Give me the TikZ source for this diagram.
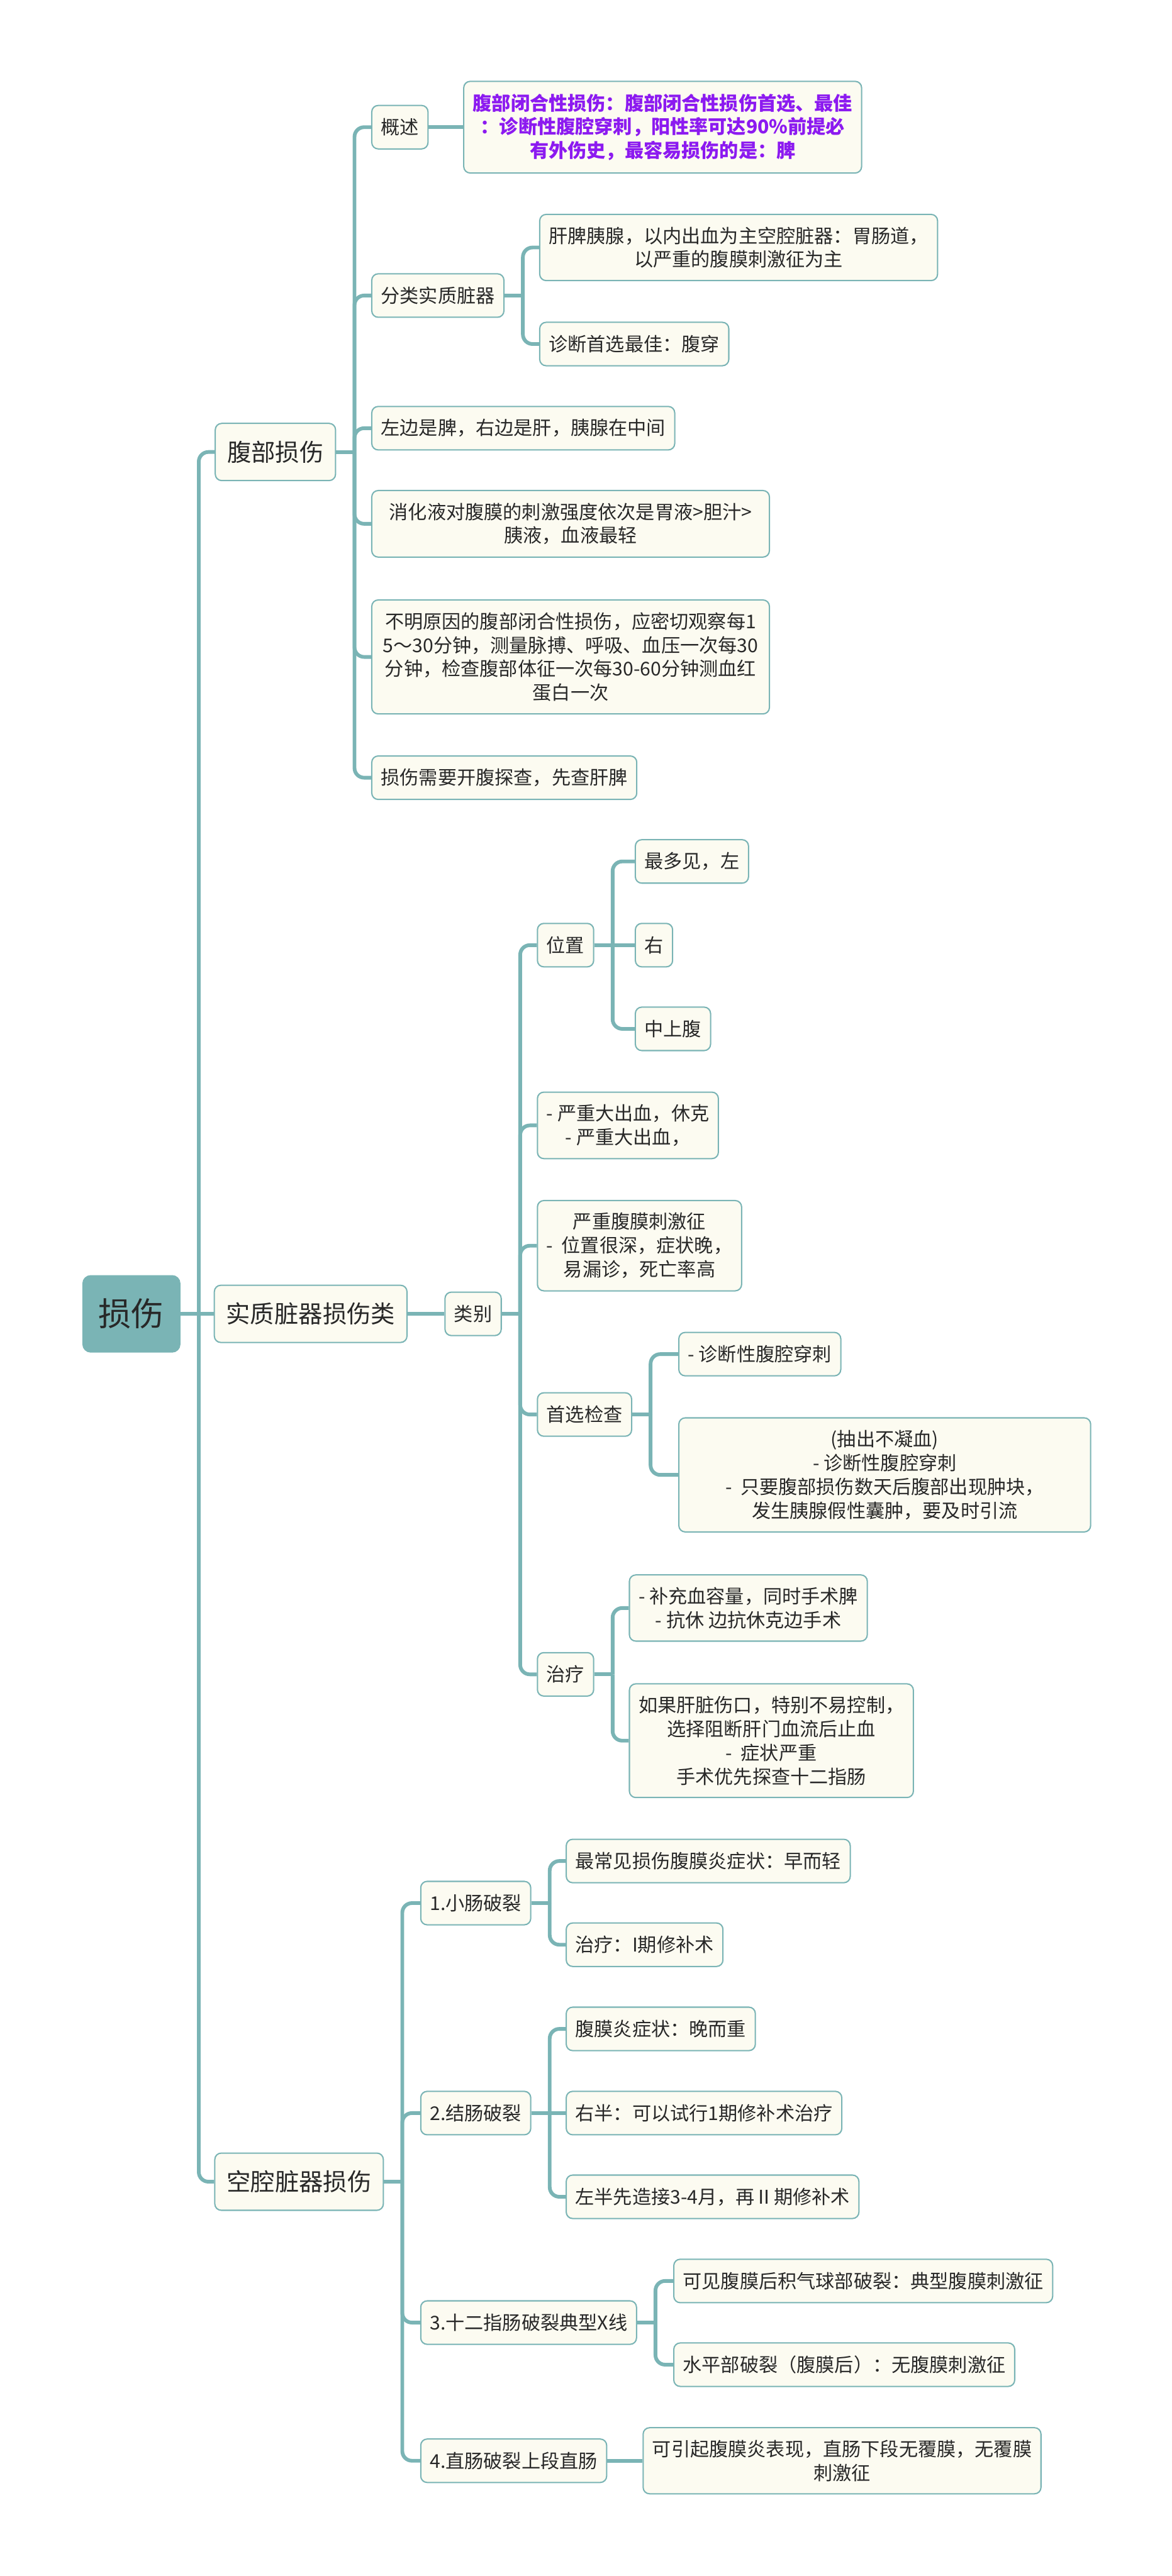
\documentclass[tikz,border=0pt]{standalone}
\usepackage{fontspec}
\setmainfont{Noto Sans CJK SC}
\usepackage{tikz}
\usetikzlibrary{positioning}
\definecolor{myteal}{RGB}{122,180,181}
\definecolor{mycream}{RGB}{252,251,241}
\definecolor{mydark}{RGB}{40,40,40}
\definecolor{mypurple}{RGB}{140,26,240}
\tikzset{
  rootnode/.style={rectangle, draw=myteal, fill=myteal, text=mydark,
    minimum width=2.13cm, minimum height=1.68cm, rounded corners=5pt,
    font=\fontsize{20.4pt}{24pt}\selectfont, anchor=west},
  mainblock/.style={rectangle, draw=myteal, fill=mycream, text=mydark,
    inner xsep=0.26cm, inner ysep=0.36cm, minimum height=1.25cm,
    font=\fontsize{15pt}{18pt}\selectfont, rounded corners=4pt,
    line width=0.8pt, anchor=west},
  block/.style={rectangle, draw=myteal, fill=mycream, text=mydark,
    inner xsep=0.2cm, inner ysep=0.27cm, minimum height=0.95cm, align=center,
    font=\fontsize{11.8pt}{14.8pt}\selectfont, rounded corners=4pt,
    line width=0.8pt, anchor=west},
  purpleblock/.style={block, text=mypurple,
    font=\fontsize{11.8pt}{14.8pt}\selectfont\bfseries},
  line/.style={color=myteal, line width=2.3pt},
  twig/.style={line, rounded corners=6pt}
}
\begin{document}
\begin{tikzpicture}
  \useasboundingbox (0,0) rectangle (25.6,-56.31);

  % Root and main branches
  \node[rootnode] (root) at (1.80,-28.72) {损伤};
  \node[mainblock] (fbss) at (4.69,-9.88) {腹部损伤};
  \node[mainblock] (szss) at (4.67,-28.72) {实质脏器损伤类};
  \node[mainblock] (kqss) at (4.68,-47.69) {空腔脏器损伤};

  % 腹部损伤
  \node[block] (gs) at (8.11,-2.78) {概述};
  \node[purpleblock] (gsnr) at (10.12,-2.78) {腹部闭合性损伤：腹部闭合性损伤首选、最佳\\：诊断性腹腔穿刺，阳性率可达90\%前提必\\有外伤史，最容易损伤的是：脾};
  \node[block] (flsz) at (8.11,-6.46) {分类实质脏器};
  \node[block] (gpyx) at (11.78,-5.41) {肝脾胰腺，以内出血为主空腔脏器：胃肠道，\\以严重的腹膜刺激征为主};
  \node[block] (zdsx) at (11.78,-7.52) {诊断首选最佳：腹穿};
  \node[block] (zbsp) at (8.11,-9.36) {左边是脾，右边是肝，胰腺在中间};
  \node[block, minimum width=8.69cm] (xhy) at (8.11,-11.45) {消化液对腹膜的刺激强度依次是胃液>胆汁>\\胰液，血液最轻};
  \node[block, minimum width=8.69cm] (bmyy) at (8.11,-14.36) {不明原因的腹部闭合性损伤，应密切观察每1\\5～30分钟，测量脉搏、呼吸、血压一次每30\\分钟，检查腹部体征一次每30-60分钟测血红\\蛋白一次};
  \node[block] (kfts) at (8.11,-17.00) {损伤需要开腹探查，先查肝脾};

  % 实质脏器损伤类
  \node[block] (lb) at (9.71,-28.72) {类别};
  \node[block] (wz) at (11.73,-20.66) {位置};
  \node[block] (wzz) at (13.87,-18.83) {最多见，左};
  \node[block] (wzy) at (13.87,-20.66) {右};
  \node[block] (wzm) at (13.87,-22.49) {中上腹};
  \node[block] (dcx) at (11.73,-24.60) {- 严重大出血，休克\\- 严重大出血，};
  \node[block] (fmcj) at (11.73,-27.23) {严重腹膜刺激征\\- \ 位置很深，症状晚，\\易漏诊，死亡率高};
  \node[block] (sxjc) at (11.73,-30.92) {首选检查};
  \node[block] (fqcc) at (14.82,-29.60) {- 诊断性腹腔穿刺};
  \node[block, minimum width=9.0cm] (cbnx) at (14.82,-32.24) {(抽出不凝血)\\- 诊断性腹腔穿刺\\- \ 只要腹部损伤数天后腹部出现肿块，\\发生胰腺假性囊肿，要及时引流};
  \node[block] (zl) at (11.73,-36.60) {治疗};
  \node[block] (bcxr) at (13.74,-35.15) {- 补充血容量，同时手术脾\\- 抗休 边抗休克边手术};
  \node[block] (gzsk) at (13.74,-38.05) {如果肝脏伤口，特别不易控制，\\选择阻断肝门血流后止血\\- \ 症状严重\\手术优先探查十二指肠};

  % 空腔脏器损伤
  \node[block] (xc) at (9.18,-41.60) {1.小肠破裂};
  \node[block] (xcz) at (12.36,-40.68) {最常见损伤腹膜炎症状：早而轻};
  \node[block] (xcl) at (12.36,-42.51) {治疗：I期修补术};
  \node[block] (jc) at (9.18,-46.19) {2.结肠破裂};
  \node[block] (jcf) at (12.36,-44.35) {腹膜炎症状：晚而重};
  \node[block] (jcy) at (12.36,-46.19) {右半：可以试行1期修补术治疗};
  \node[block] (jcz) at (12.36,-48.02) {左半先造接3-4月，再Ⅱ期修补术};
  \node[block] (sez) at (9.18,-50.77) {3.十二指肠破裂典型X线};
  \node[block] (sezq) at (14.71,-49.86) {可见腹膜后积气球部破裂：典型腹膜刺激征};
  \node[block] (sezs) at (14.71,-51.69) {水平部破裂（腹膜后）：无腹膜刺激征};
  \node[block] (zc) at (9.18,-53.79) {4.直肠破裂上段直肠};
  \node[block] (zcs) at (14.04,-53.79) {可引起腹膜炎表现，直肠下段无覆膜，无覆膜\\刺激征};

  % Connectors: bent ones
  \foreach \p/\c in {root/fbss, root/kqss,
      fbss/gs, fbss/flsz, fbss/zbsp, fbss/xhy, fbss/bmyy, fbss/kfts,
      flsz/gpyx, flsz/zdsx,
      lb/wz, lb/dcx, lb/fmcj, lb/sxjc, lb/zl,
      wz/wzz, wz/wzm, sxjc/fqcc, sxjc/cbnx, zl/bcxr, zl/gzsk,
      kqss/xc, kqss/jc, kqss/sez, kqss/zc,
      xc/xcz, xc/xcl, jc/jcf, jc/jcz, sez/sezq, sez/sezs} {
    \draw[line] (\p.east) -- ++(0.4,0) coordinate (bp);
    \draw[twig] (bp) |- (\c.west);
  }
  % Connectors: straight ones
  \foreach \p/\c in {root/szss, gs/gsnr, szss/lb, wz/wzy, jc/jcy, zc/zcs}
    \draw[line] (\p.east) -- (\c.west);
\end{tikzpicture}
\end{document}
